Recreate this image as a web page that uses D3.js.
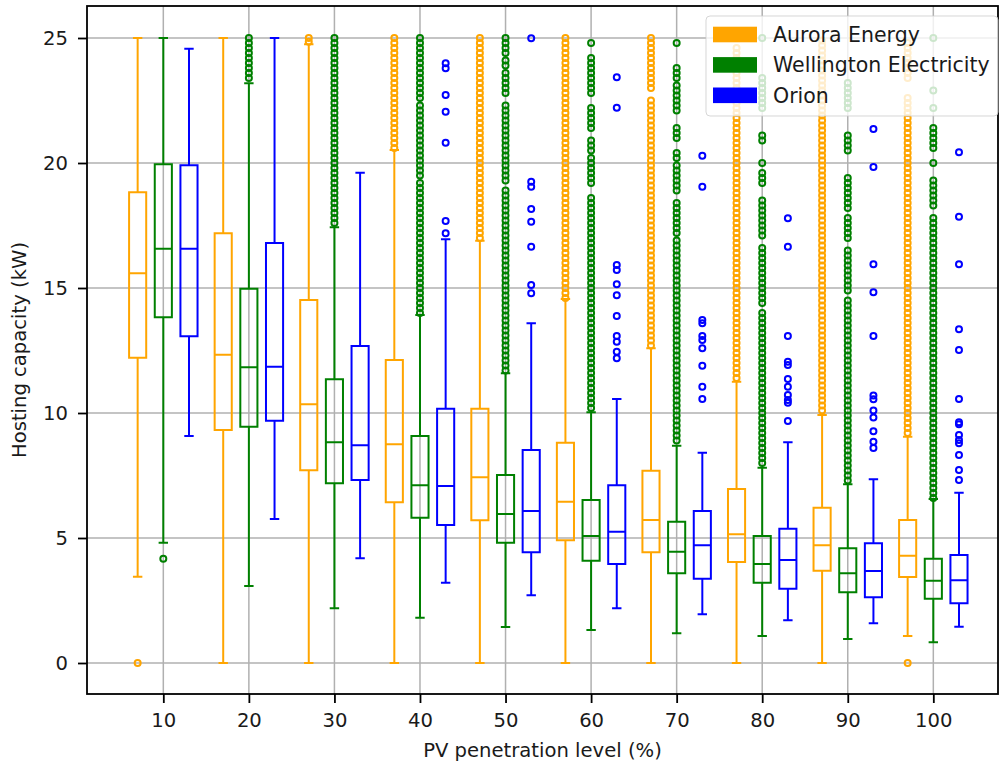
<!DOCTYPE html>
<html>
<head>
<meta charset="utf-8">
<script src="https://cdn.jsdelivr.net/npm/d3@7"></script>
<style>
  body { margin: 0; background: #fff; }
  svg { display: block; font-family: "DejaVu Sans", sans-serif; }
</style>
</head>
<body>
<svg id="chart" width="1000" height="767"></svg>
<script>
var levels = [10, 20, 30, 40, 50, 60, 70, 80, 90, 100];
var yTicks = [0, 5, 10, 15, 20, 25];
var seriesNames = ["Aurora Energy", "Wellington Electricity", "Orion"];
var seriesColors = ["#ffa500", "#008000", "#0000ff"];
var seriesOffsets = [-3, 0, 3];

// [lower whisker, Q1, median, Q3, upper whisker] per level
var auroraStats = [
	[3.45, 12.21, 15.59, 18.83, 25.0],
	[0, 9.32, 12.33, 17.19, 25.0],
	[0, 7.71, 10.35, 14.52, 24.75],
	[0, 6.43, 8.75, 12.12, 20.52],
	[0, 5.71, 7.43, 10.17, 16.89],
	[0, 4.91, 6.45, 8.81, 14.56],
	[0, 4.43, 5.72, 7.69, 12.59],
	[0, 4.04, 5.15, 6.96, 11.25],
	[0, 3.69, 4.71, 6.21, 9.92],
	[1.08, 3.44, 4.29, 5.72, 9.05]
];
var wellingtonStats = [
	[4.81, 13.83, 16.57, 19.95, 25.0],
	[3.08, 9.45, 11.83, 14.97, 23.19],
	[2.19, 7.19, 8.83, 11.35, 17.43],
	[1.81, 5.81, 7.11, 9.08, 13.92],
	[1.44, 4.81, 5.96, 7.52, 11.59],
	[1.32, 4.09, 5.08, 6.52, 10.03],
	[1.19, 3.59, 4.45, 5.65, 8.69],
	[1.08, 3.21, 3.96, 5.08, 7.81],
	[0.96, 2.83, 3.59, 4.59, 7.15],
	[0.83, 2.57, 3.29, 4.17, 6.56]
];
var orionStats = [
	[9.08, 13.07, 16.57, 19.91, 24.57],
	[5.76, 9.69, 11.85, 16.8, 25.0],
	[4.19, 7.32, 8.71, 12.68, 19.61],
	[3.21, 5.52, 7.08, 10.17, 16.95],
	[2.71, 4.43, 6.08, 8.52, 13.59],
	[2.19, 3.96, 5.25, 7.11, 10.56],
	[1.95, 3.37, 4.71, 6.08, 8.41],
	[1.71, 2.97, 4.12, 5.37, 8.83],
	[1.59, 2.63, 3.68, 4.79, 7.35],
	[1.45, 2.39, 3.31, 4.32, 6.81]
];

// outliers per level
var auroraFliers = [
	[0],
	[],
	[25, 24.85],
	[25,24.8,24.6,24.4,24.2,24,23.8,23.6,23.4,23.2,23,22.8,22.6,22.4,22.2,22,21.8,21.6,21.4,21.2,21,20.8,20.6],
	[25,24.8,24.6,24.4,24.2,24,23.8,23.6,23.4,23.2,23,22.8,22.6,22.4,22.2,22,21.8,21.6,21.4,21.2,21,20.8,20.6,20.4,20.2,20,19.8,19.6,19.4,19.2,19,18.8,18.6,18.4,18.2,18,17.8,17.6,17.4,17.2,17],
	[25,24.8,24.6,24.4,24.2,24,23.8,23.6,23.4,23.2,23,22.8,22.6,22.4,22.2,22,21.8,21.6,21.4,21.2,21,20.8,20.6,20.4,20.2,20,19.8,19.6,19.4,19.2,19,18.8,18.6,18.4,18.2,18,17.8,17.6,17.4,17.2,17,16.8,16.6,16.4,16.2,16,15.8,15.6,15.4,15.2,15,14.8,14.6],
	[25,24.8,24.6,24.4,24.2,24,23.8,23.6,23.4,23.2,23,22.5,22.3,22.1,21.9,21.7,21.5,21.3,21.1,20.9,20.7,20.5,20.3,20.1,19.9,19.7,19.5,19.3,19.1,18.9,18.7,18.5,18.3,18.1,17.9,17.7,17.5,17.3,17.1,16.9,16.7,16.5,16.3,16.1,15.9,15.7,15.5,15.3,15.1,14.9,14.7,14.5,14.3,14.1,13.9,13.7,13.5,13.3,13.1,12.9,12.7],
	[24.6,24.4,24.2,24,23.8,23.6,23.4,23.2,23,22.8,22.6,22.4,22.2,22,21.8,21.6,21.4,21.2,21,20.8,20.6,20.4,20.2,20,19.8,19.6,19.4,19.2,19,18.8,18.6,18.4,18.2,18,17.8,17.6,17.4,17.2,17,16.8,16.6,16.4,16.2,16,15.8,15.6,15.4,15.2,15,14.8,14.6,14.4,14.2,14,13.8,13.6,13.4,13.2,13,12.8,12.6,12.4,12.2,12,11.8,11.6,11.4],
	[24.9,24.7,24.5,24.3,24.1,23.9,23.7,23.5,23.3,23.1,22.9,22.7,22.5,22.3,22.1,21.9,21.7,21.5,21.3,21.1,20.9,20.7,20.5,20.3,20.1,19.9,19.7,19.5,19.3,19.1,18.9,18.7,18.5,18.3,18.1,17.9,17.7,17.5,17.3,17.1,16.9,16.7,16.5,16.3,16.1,15.9,15.7,15.5,15.3,15.1,14.9,14.7,14.5,14.3,14.1,13.9,13.7,13.5,13.3,13.1,12.9,12.7,12.5,12.3,12.1,11.9,11.7,11.5,11.3,11.1,10.9,10.7,10.5,10.3,10.1],
	[24.8,24.6,24.4,24.2,24,23.8,23.6,23.4,22.6,22.4,22.2,22,21.8,21.6,21.4,21.2,21,20.8,20.6,20.4,20.2,20,19.8,19.6,19.4,19.2,19,18.8,18.6,18.4,18.2,18,17.8,17.6,17.4,17.2,17,16.8,16.6,16.4,16.2,16,15.8,15.6,15.4,15.2,15,14.8,14.6,14.4,14.2,14,13.8,13.6,13.4,13.2,13,12.8,12.6,12.4,12.2,12,11.8,11.6,11.4,11.2,11,10.8,10.6,10.4,10.2,10,9.8,9.6,9.4,9.2,0]
];
var wellingtonFliers = [
	[4.17],
	[25,24.8,24.6,24.4,24.2,24,23.8,23.6,23.4],
	[25,24.8,24.6,24.4,24.2,24,23.8,23.6,23.4,23.2,23,22.8,22.6,22.4,22.2,22,21.8,21.6,21.4,21.2,21,20.8,20.6,20.4,20.2,20,19.8,19.6,19.4,19.2,19,18.8,18.6,18.4,18.2,18,17.8,17.6],
	[25,24.8,24.6,24.4,24.2,24,23.8,23.6,23.4,23.2,23,22.8,22.6,22.3,22.1,21.9,21.7,21.5,21.3,21.1,20.9,20.7,20.5,20.3,20.1,19.9,19.7,19.5,19.2,19,18.8,18.6,18.4,18.2,18,17.8,17.6,17.4,17.2,17,16.8,16.6,16.4,16.2,16,15.8,15.6,15.4,15.2,15,14.8,14.6,14.4,14.2,14],
	[25,24.8,24.6,24.4,24.1,23.9,23.6,23.4,23.2,23,22.8,22.3,22.1,21.9,21.7,21.5,21.3,21.1,20.9,20.7,20.5,20.3,20.1,19.9,19.7,19.5,19.3,18.9,18.7,18.5,18.3,18.1,17.9,17.7,17.5,17.3,17.1,16.9,16.7,16.5,16.3,16.1,15.9,15.7,15.5,15.3,15.1,14.9,14.7,14.5,14.3,14.1,13.9,13.7,13.5,13.3,13.1,12.9,12.7,12.5,12.3,12.1,11.9,11.7],
	[24.8,24.2,24,23.8,23.6,23.4,23.2,23,22.8,22.2,22,21.8,21.6,21.4,20.9,20.7,20.5,20.2,20,19.8,19.6,19.4,19.2,18.6,18.4,18.2,18,17.8,17.6,17.4,17.2,17,16.8,16.6,16.4,16.2,16,15.8,15.6,15.4,15.2,15,14.8,14.6,14.4,14.2,14,13.8,13.6,13.4,13.2,13,12.8,12.6,12.4,12.2,12,11.8,11.6,11.4,11.2,11,10.8,10.6,10.4,10.2],
	[24.8,23.8,23.6,23.4,23.1,22.9,22.7,22.5,22.3,22.1,21.4,21.2,21,20.4,20.2,19.9,19.7,19.5,19.3,19.1,18.9,18.4,18.2,18,17.8,17.6,17.4,17.2,16.9,16.7,16.5,16.3,16.1,15.9,15.7,15.5,15.3,15.1,14.9,14.7,14.5,14.3,14.1,13.9,13.7,13.5,13.3,13.1,12.9,12.7,12.5,12.3,12.1,11.9,11.7,11.5,11.3,11.1,10.9,10.7,10.5,10.3,10.1,9.9,9.7,9.5,9.3,9.1,8.9],
	[25,23.4,23.2,23,22.8,22.6,22.4,22.2,21.1,20.9,20,19.6,19.4,19.2,18.5,18.3,18.1,17.9,17.7,17.5,17.3,17.1,16.6,16.4,16.2,16,15.8,15.6,15.4,15.2,15,14.8,14.6,14.4,14,13.8,13.6,13.4,13.2,13,12.8,12.6,12.4,12.2,12,11.8,11.6,11.4,11.2,11,10.8,10.6,10.4,10.2,10,9.8,9.6,9.4,9.2,9,8.8,8.6,8.4,8.2,8],
	[23.2,23,22.8,22.6,22.4,22.2,21.1,20.9,20.7,20.5,19.4,19.2,19,18.8,18.6,18.4,18.2,17.8,17.6,17.4,17.2,17,16.5,16.3,16.1,15.9,15.7,15.5,15.3,15.1,14.9,14.5,14.3,14.1,13.9,13.7,13.5,13.3,13.1,12.9,12.7,12.5,12.3,12.1,11.9,11.7,11.5,11.3,11.1,10.9,10.7,10.5,10.3,10.1,9.9,9.7,9.5,9.3,9.1,8.9,8.7,8.5,8.3,8.1,7.9,7.7,7.5,7.3],
	[25,22.9,22.2,21.4,21.2,21,20.8,20.6,20,19.3,19.1,18.9,18.7,18.5,18.3,17.8,17.6,17.4,17.2,17,16.8,16.6,16.4,16.2,16,15.8,15.6,15.4,15.2,15,14.8,14.6,14.4,14.2,14,13.8,13.6,13.4,13.2,13,12.8,12.6,12.4,12.2,12,11.8,11.6,11.4,11.2,11,10.8,10.6,10.4,10.2,10,9.8,9.6,9.4,9.2,9,8.8,8.6,8.4,8.2,8,7.8,7.6,7.4,7.2,7,6.8,6.6]
];
var orionFliers = [
	[],
	[],
	[],
	[23.99, 23.79, 22.72, 22.05, 20.81, 17.68, 17.19],
	[24.99, 19.25, 19.05, 18.16, 17.65, 16.65, 15.12, 14.79],
	[23.43, 22.21, 15.92, 15.72, 15.15, 14.71, 13.88, 13.08, 12.85, 12.45, 12.19],
	[20.29, 19.05, 13.72, 13.59, 13.08, 12.92, 12.59, 11.89, 11.05, 10.56],
	[17.79, 16.65, 13.08, 12.05, 11.92, 11.36, 11.05, 10.72, 10.52, 10.41, 9.68],
	[21.36, 19.84, 15.95, 14.83, 13.08, 10.7, 10.55, 10.1, 9.82, 9.27, 8.85, 8.6],
	[20.43, 17.85, 15.95, 13.35, 12.52, 10.56, 9.63, 9.55, 9.12, 8.92, 8.79, 8.32, 7.72, 7.32]
];

var allStats = [auroraStats, wellingtonStats, orionStats];
var allFliers = [auroraFliers, wellingtonFliers, orionFliers];

var svg = d3.select("#chart"),
	margin = {top: 6, right: 2, bottom: 73, left: 87},
	width = +svg.attr("width") - margin.left - margin.right,
	height = +svg.attr("height") - margin.top - margin.bottom;

var x = d3.scaleLinear().domain([1.08, 107.56]).range([0, width]),
	y = d3.scaleLinear().domain([-1.24, 26.28]).range([height, 0]);

var g = svg.append("g")
	.attr("transform", "translate(" + margin.left + "," + margin.top + ")");

// grid
g.append("g").selectAll("line")
	.data(levels)
	.enter().append("line")
	.attr("x1", function(d) { return x(d); })
	.attr("x2", function(d) { return x(d); })
	.attr("y1", 0).attr("y2", height)
	.attr("stroke", "#b0b0b0").attr("stroke-width", 1.5);

g.append("g").selectAll("line")
	.data(yTicks)
	.enter().append("line")
	.attr("x1", 0).attr("x2", width)
	.attr("y1", function(d) { return y(d); })
	.attr("y2", function(d) { return y(d); })
	.attr("stroke", "#b0b0b0").attr("stroke-width", 1.5);

// build one record per box
var boxes = [];
for (var s = 0; s < seriesNames.length; s++) {
	for (var i = 0; i < levels.length; i++) {
		var st = allStats[s][i];
		boxes.push({
			pos: levels[i] + seriesOffsets[s],
			color: seriesColors[s],
			lo: st[0], q1: st[1], med: st[2], q3: st[3], hi: st[4],
			fliers: allFliers[s][i]
		});
	}
}

var boxW = 2;
var lw = 2;

var bg = g.selectAll(".box")
	.data(boxes)
	.enter().append("g")
	.attr("class", "box");

// whiskers
bg.append("line")
	.attr("x1", function(d) { return x(d.pos); })
	.attr("x2", function(d) { return x(d.pos); })
	.attr("y1", function(d) { return y(d.q3); })
	.attr("y2", function(d) { return y(d.hi); })
	.attr("stroke", function(d) { return d.color; })
	.attr("stroke-width", lw);
bg.append("line")
	.attr("x1", function(d) { return x(d.pos); })
	.attr("x2", function(d) { return x(d.pos); })
	.attr("y1", function(d) { return y(d.q1); })
	.attr("y2", function(d) { return y(d.lo); })
	.attr("stroke", function(d) { return d.color; })
	.attr("stroke-width", lw);

// caps
["hi", "lo"].forEach(function(k) {
	bg.append("line")
		.attr("x1", function(d) { return x(d.pos - 0.55); })
		.attr("x2", function(d) { return x(d.pos + 0.55); })
		.attr("y1", function(d) { return y(d[k]); })
		.attr("y2", function(d) { return y(d[k]); })
		.attr("stroke", function(d) { return d.color; })
		.attr("stroke-width", lw);
});

// box
bg.append("rect")
	.attr("x", function(d) { return x(d.pos - boxW / 2); })
	.attr("y", function(d) { return y(d.q3); })
	.attr("width", function(d) { return x(d.pos + boxW / 2) - x(d.pos - boxW / 2); })
	.attr("height", function(d) { return y(d.q1) - y(d.q3); })
	.attr("fill", "none")
	.attr("stroke", function(d) { return d.color; })
	.attr("stroke-width", lw);

// median
bg.append("line")
	.attr("x1", function(d) { return x(d.pos - boxW / 2); })
	.attr("x2", function(d) { return x(d.pos + boxW / 2); })
	.attr("y1", function(d) { return y(d.med); })
	.attr("y2", function(d) { return y(d.med); })
	.attr("stroke", function(d) { return d.color; })
	.attr("stroke-width", lw);

// outliers
bg.selectAll("circle")
	.data(function(d) { return d.fliers.map(function(v) { return {pos: d.pos, v: v, color: d.color}; }); })
	.enter().append("circle")
	.attr("cx", function(d) { return x(d.pos); })
	.attr("cy", function(d) { return y(d.v); })
	.attr("r", 3)
	.attr("fill", "none")
	.attr("stroke", function(d) { return d.color; })
	.attr("stroke-width", 2);

// axes
var xAxis = g.append("g")
	.attr("transform", "translate(0," + height + ")")
	.call(d3.axisBottom(x).tickValues(levels).tickSize(9).tickPadding(10));
var yAxis = g.append("g")
	.call(d3.axisLeft(y).tickValues(yTicks).tickSize(9).tickPadding(10));

[xAxis, yAxis].forEach(function(a) {
	a.select(".domain").remove();
	a.selectAll(".tick line").attr("stroke", "#000").attr("stroke-width", 1.8);
	a.selectAll(".tick text")
		.attr("fill", "#1a1a1a")
		.style("font-family", "DejaVu Sans")
		.style("font-size", "19.6px");
});

// spines
g.append("rect")
	.attr("x", 0).attr("y", 0)
	.attr("width", width).attr("height", height)
	.attr("fill", "none")
	.attr("stroke", "#000")
	.attr("stroke-width", 1.8);

// axis labels
svg.append("text")
	.attr("x", margin.left + width / 2)
	.attr("y", 757)
	.attr("text-anchor", "middle")
	.attr("fill", "#1a1a1a")
	.style("font-size", "19.6px")
	.text("PV penetration level (%)");

svg.append("text")
	.attr("transform", "translate(26," + (margin.top + height / 2) + ") rotate(-90)")
	.attr("text-anchor", "middle")
	.attr("fill", "#1a1a1a")
	.style("font-size", "19.6px")
	.text("Hosting capacity (kW)");

// legend
var legend = svg.append("g").attr("transform", "translate(706,16)");
legend.append("rect")
	.attr("width", 292).attr("height", 100)
	.attr("rx", 4).attr("ry", 4)
	.attr("fill", "#fff").attr("fill-opacity", 0.8)
	.attr("stroke", "#cccccc").attr("stroke-opacity", 0.8)
	.attr("stroke-width", 1);

var items = legend.selectAll(".item")
	.data(seriesNames)
	.enter().append("g")
	.attr("class", "item")
	.attr("transform", function(d, i) { return "translate(0," + (18.5 + i * 30.4) + ")"; });

items.append("rect")
	.attr("x", 7).attr("y", -7.8)
	.attr("width", 44).attr("height", 15.6)
	.attr("fill", function(d, i) { return seriesColors[i]; });

items.append("text")
	.attr("x", 67).attr("y", 7.3)
	.attr("fill", "#1a1a1a")
	.style("font-size", "20.5px")
	.text(function(d) { return d; });
</script>
</body>
</html>
